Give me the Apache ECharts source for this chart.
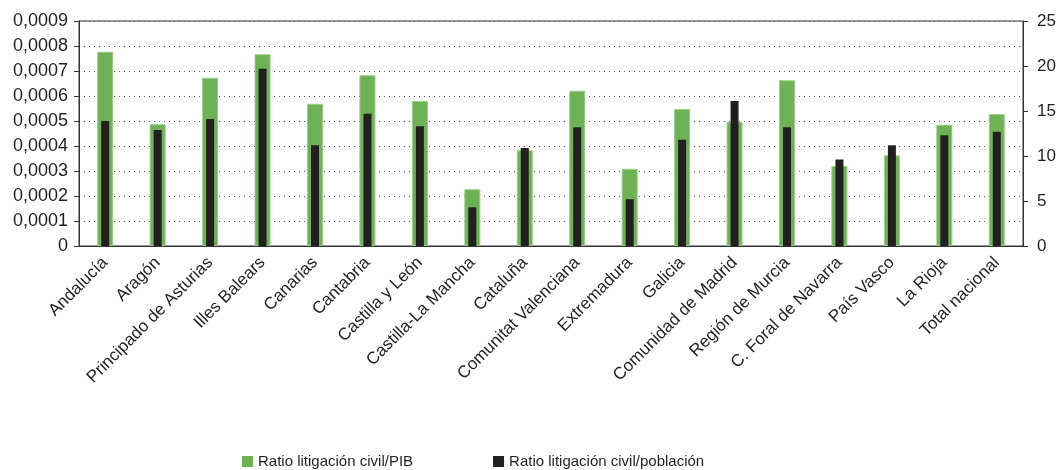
<!DOCTYPE html>
<html>
<head>
<meta charset="utf-8">
<script src="https://cdn.jsdelivr.net/npm/echarts@6/dist/echarts.min.js"></script>
<style>
  html, body { margin: 0; padding: 0; background: #fff; }
  #chart { width: 1059px; height: 470px; }
</style>
</head>
<body>
<div id="chart"></div>
<script>
// Comunidades autónomas
const regiones = [
  'Andalucía', 'Aragón', 'Principado de Asturias', 'Illes Balears', 'Canarias',
  'Cantabria', 'Castilla y León', 'Castilla-La Mancha', 'Cataluña',
  'Comunitat Valenciana', 'Extremadura', 'Galicia', 'Comunidad de Madrid',
  'Región de Murcia', 'C. Foral de Navarra', 'País Vasco', 'La Rioja', 'Total nacional'
];

// Ratio litigación civil/PIB (eje izquierdo)
const ratioPIB = [
  0.000777, 0.000487, 0.000673, 0.000767, 0.000569, 0.000683, 0.000580, 0.000227, 0.000383,
  0.000621, 0.000309, 0.000548, 0.000496, 0.000663, 0.000320, 0.000363, 0.000485, 0.000528
];

// Ratio litigación civil/población (eje derecho)
const ratioPoblacion = [
  13.9, 12.9, 14.1, 19.7, 11.2, 14.7, 13.3, 4.3, 10.9,
  13.2, 5.2, 11.8, 16.1, 13.2, 9.6, 11.2, 12.3, 12.7
];

const FONT = '"Liberation Sans", Arial, sans-serif';
const TXT = '#231f20';

const chart = echarts.init(document.getElementById('chart'), null, { renderer: 'canvas' });

chart.setOption({
  animation: false,
  grid: {
    left: 79, right: 36, top: 21, bottom: 224,
    show: true, borderColor: '#333', borderWidth: 1, backgroundColor: 'transparent'
  },
  legend: {
    left: 242, top: 454, padding: 0,
    itemWidth: 11, itemHeight: 11, itemGap: 80,
    icon: 'rect',
    itemStyle: { borderWidth: 0 },
    textStyle: { fontFamily: FONT, fontSize: 15, color: TXT },
    data: ['Ratio litigación civil/PIB', 'Ratio litigación civil/población']
  },
  xAxis: [
    {
      type: 'category', data: regiones,
      axisLine: { lineStyle: { color: '#333', width: 1 } },
      axisTick: { show: false },
      axisLabel: {
        interval: 0, rotate: 45, margin: 14,
        fontFamily: FONT, fontSize: 17, color: TXT
      }
    },
    {
      type: 'category', data: regiones, position: 'bottom',
      show: false
    }
  ],
  yAxis: [
    {
      type: 'value', min: 0, max: 0.0009, interval: 0.0001,
      axisLine: { show: true, lineStyle: { color: '#333', width: 1 } },
      axisTick: { show: true, length: 5, lineStyle: { color: '#333' } },
      axisLabel: {
        margin: 11, fontFamily: FONT, fontSize: 18, color: TXT,
        formatter: v => v === 0 ? '0' : v.toFixed(4).replace('.', ',')
      },
      splitLine: { show: true, lineStyle: { color: '#555', type: [1, 4], width: 1 } }
    },
    {
      type: 'value', min: 0, max: 25, interval: 5, position: 'right',
      axisLine: { show: true, lineStyle: { color: '#333', width: 1 } },
      axisTick: { show: true, length: 5, lineStyle: { color: '#333' } },
      axisLabel: { margin: 14, fontFamily: FONT, fontSize: 17, color: TXT },
      splitLine: { show: false }
    }
  ],
  series: [
    {
      name: 'Ratio litigación civil/PIB', type: 'bar',
      xAxisIndex: 0, yAxisIndex: 0,
      data: ratioPIB, barWidth: 16,
      itemStyle: { color: '#6db355', borderColor: '#9ccd8a', borderWidth: 1 }
    },
    {
      name: 'Ratio litigación civil/población', type: 'bar',
      xAxisIndex: 1, yAxisIndex: 1,
      data: ratioPoblacion, barWidth: 8,
      itemStyle: { color: '#231f20' }
    }
  ]
});
</script>
</body>
</html>
